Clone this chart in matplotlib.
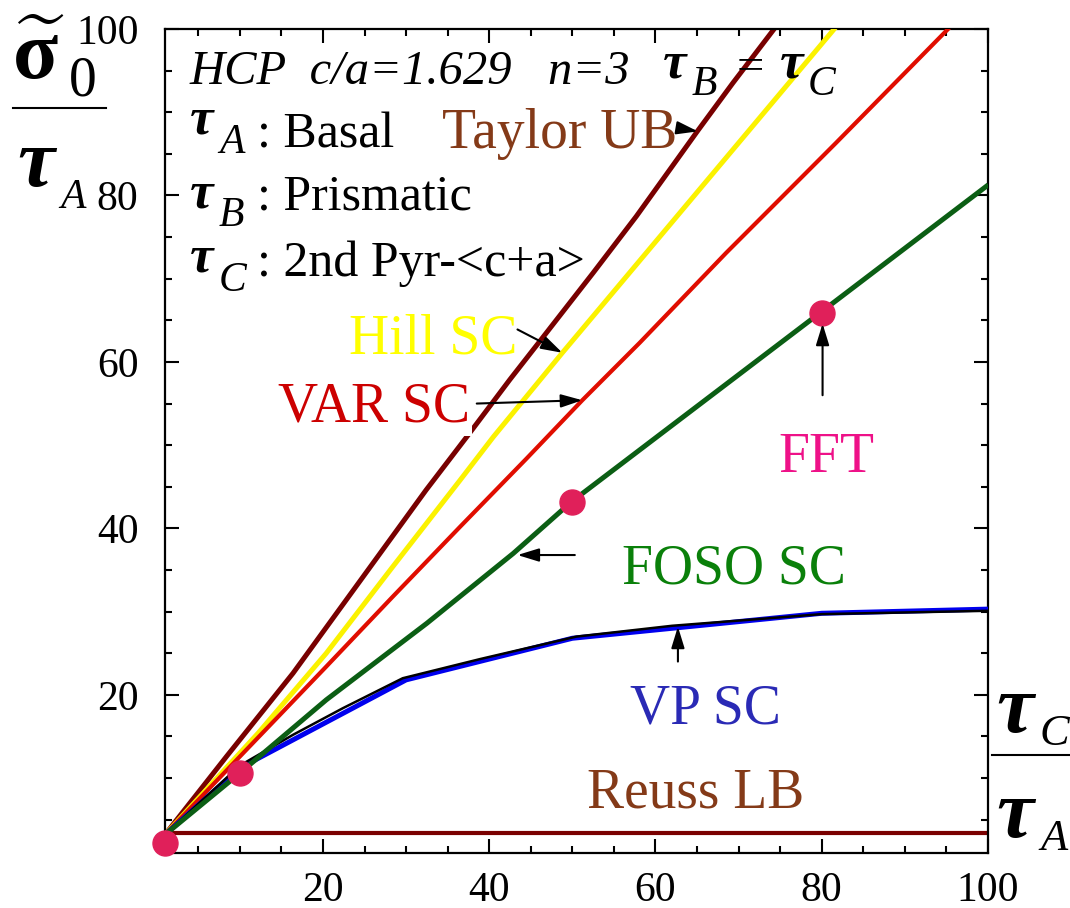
"""HCP c/a=1.629 n=3 normalized flow stress vs tau_C/tau_A: bounds and SC models."""
import numpy as np
import matplotlib; matplotlib.use("Agg"); import matplotlib.pyplot as plt
from matplotlib.lines import Line2D

# curves (x = tau_C/tau_A, y = sigma0/tau_A)
taylor_x = [1, 8.4, 16.4, 24.4, 32.4, 37.3, 42.5, 46.1, 52.5, 57.7, 65.1, 69.3, 74.5]
taylor_y = [3.2, 12.6, 22.6, 33.6, 44.6, 51.0, 57.9, 62.5, 70.7, 77.5, 87.8, 93.5, 100.3]
hill_x = [1, 12.2, 20.4, 28.4, 36.5, 40.5, 48.8, 81.5]
hill_y = [3.2, 15.4, 25.0, 35.4, 45.8, 51.0, 61.1, 100.0]
var_x = [1, 10.4, 20.4, 28.4, 36.5, 44.5, 51.2, 58.1, 68.5, 81.7, 95.2]
var_y = [3.2, 13.0, 23.4, 31.8, 40.2, 48.4, 55.4, 62.3, 73.1, 86.3, 100.0]
foso_x = [1, 10, 20.4, 32.5, 42.9, 49.9, 79.8, 99.8]
foso_y = [3.2, 10.6, 19.4, 28.6, 37.0, 43.2, 65.9, 81.1]
vp_x = [1, 10, 30, 50, 80, 100]
vp_y = [3.2, 11.2, 21.8, 26.8, 29.8, 30.3]
vp2_x = [1, 10, 16.4, 22.4, 29.6, 38.9, 50.5, 62, 80, 100]
vp2_y = [3.2, 11.5, 15.2, 18.4, 22.0, 24.3, 27.0, 28.3, 29.7, 30.1]
reuss_x = [1, 100]
reuss_y = [3.4, 3.4]
fft_x = [1, 10, 50, 80]
fft_y = [2.2, 10.6, 43.2, 65.9]

W, H = 1070, 908
SERIF = "Liberation Serif"
plt.rcParams["font.family"] = SERIF
plt.rcParams["mathtext.fontset"] = "custom"
plt.rcParams["mathtext.rm"] = SERIF
plt.rcParams["mathtext.it"] = SERIF + ":italic"
plt.rcParams["mathtext.bf"] = SERIF + ":bold"

fig = plt.figure(figsize=(W / 100, H / 100), dpi=100)
ax = fig.add_axes([165 / W, 1 - 853 / H, 823 / W, 824 / H])


def ftext(px, py, s, **kw):
    # place text at pixel position (baseline)
    kw.setdefault("va", "baseline")
    return fig.text(px / W, 1 - py / H, s, **kw)


ax.plot(reuss_x, reuss_y, color="#7a0000", lw=3.0, zorder=1)
ax.plot(taylor_x, taylor_y, color="#780000", lw=3.6, zorder=2)
ax.plot(hill_x, hill_y, color="#fbf200", lw=3.6, zorder=3)
ax.plot(var_x, var_y, color="#e00d00", lw=3.0, zorder=4)
ax.plot(vp_x, vp_y, color="#0000ee", lw=3.6, zorder=5)
ax.plot(vp2_x, vp2_y, color="black", lw=1.8, zorder=6)
ax.plot(foso_x, foso_y, color="#0b5e14", lw=3.6, zorder=7)
ax.plot(fft_x, fft_y, "o", color="#e0205a", ms=18, zorder=10, clip_on=False)

ax.set_xlim(1, 100); ax.set_ylim(1, 100)
ax.set_xticks([20, 40, 60, 80, 100]); ax.set_yticks([20, 40, 60, 80, 100])
ax.set_xticks(np.arange(5, 100, 5), minor=True); ax.set_yticks(np.arange(5, 100, 5), minor=True)
ax.tick_params(which="both", direction="in", top=True, right=True, width=1.5, labelsize=30)
ax.tick_params(which="major", length=10)
ax.tick_params(which="minor", length=5)
ax.tick_params(axis="x", pad=13); ax.tick_params(axis="y", pad=19)
for s in ax.spines.values():
    s.set_linewidth(1.6)

# arrows (tail -> tip on the curve)
arr = dict(arrowstyle="-|>,head_length=1.3,head_width=0.4", color="k", lw=1.5, shrinkA=0, shrinkB=0)
for tail, tip in [((62.7, 88.1), (65.1, 87.7)), ((43.4, 63.9), (48.8, 61.1)),
                  ((38.5, 55.0), (51.2, 55.4)), ((50.3, 36.8), (43.4, 36.8)),
                  ((80.1, 56.0), (80.1, 64.6)), ((62.7, 24.0), (62.7, 28.2))]:
    ax.annotate("", xy=tip, xytext=tail, arrowprops=arr, zorder=11, annotation_clip=False)

# curve labels
LAB = 40
ftext(442, 148, "Taylor UB", color="#843a18", fontsize=LAB)
ftext(517, 353, "Hill SC", color="#ffff00", fontsize=LAB, ha="right")
ftext(278, 422, "VAR SC", color="#cc0000", fontsize=LAB,
      bbox=dict(fc="white", ec="none", pad=1))
ftext(826, 472, "FFT", color="#ee1188", fontsize=LAB, ha="center")
ftext(622, 583, "FOSO SC", color="#0a800a", fontsize=LAB)
ftext(630, 724, "VP SC", color="#2a2ab5", fontsize=LAB)
ftext(587, 808, "Reuss LB", color="#843a18", fontsize=LAB)

# header and slip-system legend
TAU = dict(fontsize=38, fontweight="bold", fontstyle="italic")
SUB = dict(fontsize=30, fontstyle="italic")
ftext(190, 84, "HCP  c/a=1.629   n=3", fontsize=35, fontstyle="italic")
ftext(663, 78, "τ", **TAU); ftext(692, 95, "B", **SUB)
ftext(737, 80, "=", fontsize=35)
ftext(780, 78, "τ", **TAU); ftext(808, 95, "C", **SUB)
for y_tau, sub, txt, y_txt in [(134, "A", ": Basal", 147), (207, "B", ": Prismatic", 210),
                               (272, "C", ": 2nd Pyr-<c+a>", 276)]:
    ftext(190, y_tau, "τ", **TAU)
    ftext(219, y_tau + 19, sub, **SUB)
    ftext(257, y_txt, txt, fontsize=36)

# y axis label: sigma~_0 / tau_A
ftext(12, 79, r"$\widetilde{\mathbf{σ}}$", fontsize=60)
ftext(69, 96, "0", fontsize=40)
fig.add_artist(Line2D([13 / W, 106 / W], [1 - 108 / H] * 2, lw=1.5, color="k", transform=fig.transFigure))
ftext(17, 186, "τ", fontsize=60, fontweight="bold", fontstyle="italic")
ftext(60, 208, "A", fontsize=30, fontstyle="italic")

# x axis label: tau_C / tau_A
ftext(996, 732, "τ", fontsize=60, fontweight="bold", fontstyle="italic")
ftext(1040, 745, "C", fontsize=32, fontstyle="italic")
fig.add_artist(Line2D([992 / W, 1070 / W], [1 - 755 / H] * 2, lw=1.5, color="k", transform=fig.transFigure))
ftext(996, 837, "τ", fontsize=60, fontweight="bold", fontstyle="italic")
ftext(1040, 850, "A", fontsize=32, fontstyle="italic")

fig.savefig("out.png", dpi=100)
